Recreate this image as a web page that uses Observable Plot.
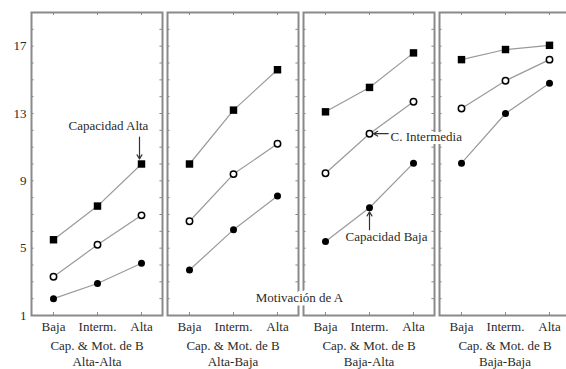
<!DOCTYPE html>
<html>
<head>
<meta charset="utf-8">
<script src="https://cdn.jsdelivr.net/npm/d3@7"></script>
<script src="https://cdn.jsdelivr.net/npm/@observablehq/plot@0.6"></script>
<style>
  html, body { margin: 0; padding: 0; background: #fff; overflow: hidden; }
  #chart { width: 566px; height: 369px; overflow: hidden; }
  #chart svg { max-width: none !important; height: 369px !important; }
  #chart svg, #chart svg text { font-family: "Liberation Serif", "Times New Roman", serif !important; }
</style>
</head>
<body>
<div id="chart"></div>
<script>
// Panels (Cap. & Mot. de B)
const panels = ["Alta-Alta", "Alta-Baja", "Baja-Alta", "Baja-Baja"];
// Motivación de A categories
const motivacion = ["Baja", "Interm.", "Alta"];
// Series values per panel (rows) and motivation level (cols)
const capacidadAlta = [[5.5, 7.5, 10.0], [10.0, 13.2, 15.6], [13.1, 14.55, 16.6], [16.2, 16.8, 17.05]];
const capacidadIntermedia = [[3.3, 5.2, 6.95], [6.6, 9.4, 11.2], [9.45, 11.8, 13.7], [13.3, 14.95, 16.2]];
const capacidadBaja = [[2.0, 2.9, 4.1], [3.7, 6.1, 8.1], [5.4, 7.4, 10.05], [10.05, 13.0, 14.8]];
const yTicks = [1, 5, 9, 13, 17];

const seriesDefs = [
  {name: "Capacidad Alta", values: capacidadAlta},
  {name: "C. Intermedia", values: capacidadIntermedia},
  {name: "Capacidad Baja", values: capacidadBaja}
];
const data = [];
for (const s of seriesDefs)
  panels.forEach((p, i) => motivacion.forEach((m, j) =>
    data.push({serie: s.name, panel: p, mot: m, value: s.values[i][j]})));

const W = 572, ML = 29, MR = 1, PI = 0.04;
const step = (W - ML - MR) / (panels.length - PI);
const BW = step * (1 - PI);
const H = 369, MT = 12, MB = 54;
const PH = H - MT - MB;

const font = "Liberation Serif";
const txt = "#2a2a2a";

const chart = Plot.plot({
  width: W, height: H,
  marginLeft: ML, marginRight: MR, marginTop: MT, marginBottom: MB,
  style: {fontFamily: font, fontSize: "13px", color: txt, background: "#fff", maxWidth: "none"},
  fx: {domain: panels, paddingInner: PI, paddingOuter: 0, label: null},
  x: {type: "point", domain: motivacion, padding: 0.47, label: null},
  y: {domain: [1, 19], label: null},
  marks: [
    // minor ticks inside frame
    Plot.tickY(d3.range(1, 20), {y: d => d, stroke: "#8a8a8a", insetRight: BW - 3}),
    Plot.tickY(d3.range(1, 20), {y: d => d, stroke: "#8a8a8a", insetLeft: BW - 3}),
    Plot.tickX(motivacion, {x: d => d, stroke: "#8a8a8a", insetBottom: PH - 3}),
    Plot.tickX(motivacion, {x: d => d, stroke: "#8a8a8a", insetTop: PH - 3}),
    Plot.frame({stroke: "#8a8a8a", strokeWidth: 2}),
    Plot.line(data, {x: "mot", y: "value", z: "serie", fx: "panel", stroke: "#9a9a9a", strokeWidth: 1.2}),
    Plot.dot(data.filter(d => d.serie === "Capacidad Alta"), {x: "mot", y: "value", fx: "panel", symbol: "square", r: 4.2, fill: "#000", stroke: "none"}),
    Plot.dot(data.filter(d => d.serie === "C. Intermedia"), {x: "mot", y: "value", fx: "panel", r: 3.2, fill: "#fff", stroke: "#000", strokeWidth: 1.5}),
    Plot.dot(data.filter(d => d.serie === "Capacidad Baja"), {x: "mot", y: "value", fx: "panel", r: 3.5, fill: "#000", stroke: "none"}),
    Plot.axisY({ticks: yTicks, tickSize: 0, tickPadding: 5, label: null, fontSize: 13, fill: txt}),
    Plot.axisX({tickSize: 0, tickPadding: 6, label: null, fontSize: 13, fill: txt}),
    Plot.axisFx({anchor: "bottom", tickSize: 0, tickPadding: 23, label: null, lineHeight: 1.23,
      tickFormat: d => "Cap. & Mot. de B\n" + d, fontSize: 13, fill: txt}),
    // Annotations
    Plot.arrow([0], {fx: () => panels[0], x1: () => "Alta", x2: () => "Alta", y1: () => 11.6, y2: () => capacidadAlta[0][2],
      dx: -2, insetEnd: 5, stroke: "#333", strokeWidth: 1.2, headLength: 6}),
    Plot.text(["Capacidad Alta"], {fx: () => panels[0], x: () => "Alta", y: () => 12.25, dx: -33, text: d => d,
      fill: txt, fontSize: 13}),
    Plot.arrow([0], {fx: () => panels[2], x1: () => "Alta", x2: () => "Interm.", y1: () => capacidadIntermedia[2][1], y2: () => capacidadIntermedia[2][1],
      insetStart: 25, insetEnd: 4, stroke: "#333", strokeWidth: 1.2, headLength: 6}),
    Plot.text(["C. Intermedia"], {fx: () => panels[2], x: () => "Interm.", y: () => capacidadIntermedia[2][1], dx: 21, dy: 3,
      textAnchor: "start", text: d => d, fill: txt, stroke: "#fff", strokeWidth: 6, paintOrder: "stroke", fontSize: 13}),
    Plot.arrow([0], {fx: () => panels[2], x1: () => "Interm.", x2: () => "Interm.", y1: () => 6.1, y2: () => capacidadBaja[2][1],
      insetEnd: 4, stroke: "#333", strokeWidth: 1.2, headLength: 6}),
    Plot.text(["Capacidad Baja"], {fx: () => panels[2], x: () => "Interm.", y: () => 5.66, dx: 17, text: d => d,
      fill: txt, stroke: "#fff", strokeWidth: 3, paintOrder: "stroke", fontSize: 13}),
    Plot.text(["Motivación de A"], {fx: () => panels[1], x: () => "Alta", y: () => 2.07, dx: 22, text: d => d,
      fill: txt, stroke: "#fff", strokeWidth: 7, paintOrder: "stroke", fontSize: 13})
  ]
});
document.getElementById("chart").appendChild(chart);
</script>
</body>
</html>
